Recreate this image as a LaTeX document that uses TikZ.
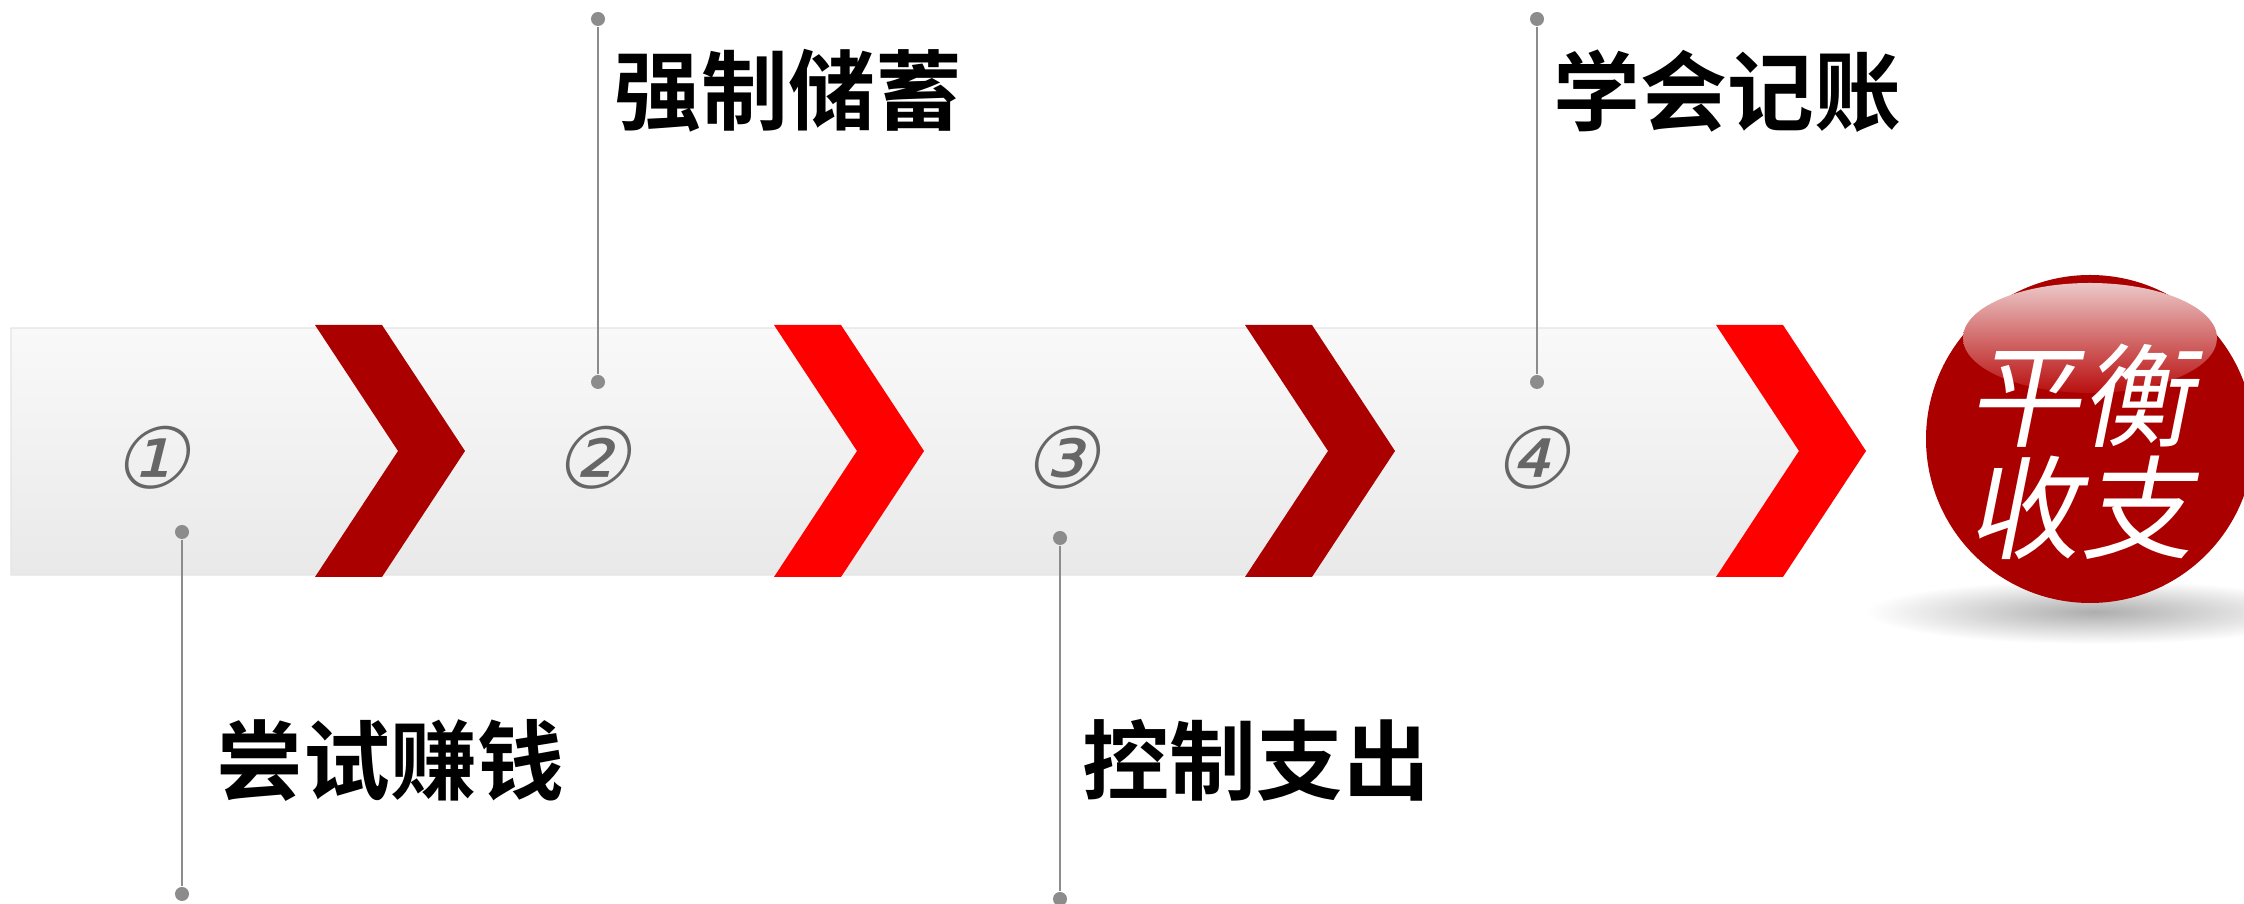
\documentclass[tikz,border=0pt]{standalone}
\usepackage{fontspec}
\newfontfamily\cjkb{Noto Sans CJK SC Bold}
\newfontfamily\cjkl{Noto Sans CJK SC}[FakeSlant=0.2]
\newfontfamily\circf{DejaVu Sans}[FakeSlant=0.25]
\definecolor{bandtop}{HTML}{F9F9F9}
\definecolor{bandbot}{HTML}{E9E9E9}
\definecolor{bandedge}{HTML}{E4E4E4}
\definecolor{darkred}{HTML}{AA0000}
\definecolor{brightred}{HTML}{FF0000}
\definecolor{pingray}{HTML}{8C8C8C}
\definecolor{numgray}{HTML}{666666}
\tikzset{
  chev/.style={draw=none},
  pindot/.style={circle, fill=pingray, inner sep=0pt, minimum size=0.14cm},
  pinline/.style={draw=pingray, line width=0.7pt},
  label/.style={font=\cjkb\fontsize{24.7}{29}\selectfont, text=black, inner sep=0pt, anchor=west},
  num/.style={font=\circf\fontsize{24}{28}\selectfont, text=numgray, inner sep=0pt},
}
\begin{document}
\begin{tikzpicture}[x=0.01cm, y=-0.01cm]
\useasboundingbox (0,0) rectangle (2244,904);
% band
\shade[top color=bandtop, bottom color=bandbot, draw=bandedge, line width=0.4pt] (11,328) -- (1722,328) -- (1800,451) -- (1722,575) -- (11,575) -- cycle;
% chevrons
\foreach \a/\c in {315/darkred, 774/brightred, 1245/darkred, 1716/brightred}{
  \fill[chev, \c] (\a,325) -- (\a+67,325) -- (\a+150,451) -- (\a+67,577) -- (\a,577) -- (\a+83,451) -- cycle;
}
% numbers
\node[num] (n1) at (150,458) {①};
\node[num] (n2) at (591,458) {②};
\node[num] (n3) at (1060,458) {③};
\node[num] (n4) at (1530,458) {④};
% pins
\node[pindot] (p1a) at (182,532) {};
\node[pindot] (p1b) at (182,894) {};
\node[pindot] (p2a) at (598,382) {};
\node[pindot] (p2b) at (598,19) {};
\node[pindot] (p3a) at (1060,538) {};
\node[pindot] (p3b) at (1060,899) {};
\node[pindot] (p4a) at (1537,382) {};
\node[pindot] (p4b) at (1537,19) {};
\draw[pinline] (p1a) -- (p1b);
\draw[pinline] (p2a) -- (p2b);
\draw[pinline] (p3a) -- (p3b);
\draw[pinline] (p4a) -- (p4b);
% labels
\node[label] (l1) at (216,760) {尝试赚钱};
\node[label] (l2) at (614,91) {强制储蓄};
\node[label] (l3) at (1082,760) {控制支出};
\node[label] (l4) at (1553,91) {学会记账};
% sphere shadow
\shade[inner color=black!32, outer color=white] (2095,612) ellipse (230 and 32);
% sphere
\fill[darkred] (2090,439) circle (164);
\shade[top color={rgb,255:red,236;green,200;blue,200}, middle color={rgb,255:red,212;green,100;blue,100}, bottom color={rgb,255:red,185;green,15;blue,15}] (2090,338) ellipse (127 and 55);
\node[font=\cjkl\fontsize{32}{32}\selectfont, text=white, inner sep=0pt, align=center] (ball) at (2080,452) {平衡\\收支};
\end{tikzpicture}
\end{document}
